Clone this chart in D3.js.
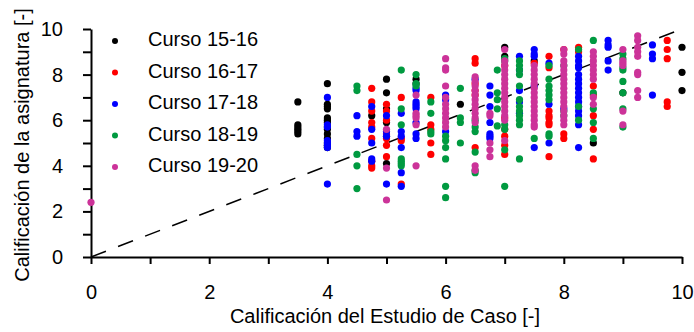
<!DOCTYPE html>
<html><head><meta charset="utf-8">
<script src="https://cdn.jsdelivr.net/npm/d3@7"></script>
<style>
body{margin:0;background:#fff;}
svg{display:block;font-family:"Liberation Sans",Arial,sans-serif;}
</style></head>
<body><svg id="c" width="694" height="332"></svg>
<script>
// Series: [x, [y values]]
const curso1516 = [
  [3.5,[6.8,5.8,5.7,5.6,5.5,5.4]],
  [4,[7.6,6.7,6.6,6.5,6.1,6.0,5.9,5.7,5.6,5.4,5.2,5.0,4.9,4.8]],
  [4.75,[6.2]],
  [5,[7.8,7.2,6.5,5.9,5.3,4.1]],
  [5.5,[7.8,7.6]],
  [6.25,[6.7]],
  [7,[9.2,8.8]],
  [7.5,[8.6]],
  [8.5,[5.0]],
  [9,[7.2]],
  [10,[9.2,8.1,7.3]]
];
const curso1617 = [
  [4.75,[7.4,6.8,6.4,5.9,5.7,5.2,4.2,4.0,3.9]],
  [5,[6.7,6.4,6.0,5.4,5.2,4.9,4.4]],
  [5.25,[7.0,5.2,5.1,3.2]],
  [5.75,[7.0,5.8,5.6,5.0,4.5]],
  [6.5,[8.7,8.5,7.6,7.3,7.1,4.8]],
  [7,[8.4,6.1,5.6,5.3,4.9,4.5]],
  [7.5,[8.5]],
  [7.75,[8.8,8.3,6.4,6.2,6.1,5.9,5.8,4.4]],
  [8,[9.1,5.4,5.2]],
  [8.25,[9.2,9.0]],
  [8.5,[7.5,7.1,6.2,5.6,4.3]],
  [9.75,[9.5,9.1,8.7,6.8,6.6]]
];
const curso1718 = [
  [4,[7.0,5.8,5.7,5.1,5.0,4.9,4.8,3.2]],
  [4.5,[6.2,5.5,5.3]],
  [4.75,[6.6,5.6,5.0,4.3,4.2]],
  [5,[6.2,5.5,5.3,3.2]],
  [5.25,[6.3,5.5,5.3,4.8,3.7,3.1]],
  [5.5,[7.4,7.3,6.8,6.7,6.6,6.5,5.9,5.4,5.2]],
  [6,[7.1,6.9,5.5]],
  [6.5,[7.8]],
  [6.75,[7.5,7.1,6.6,5.9,5.4,5.3,5.2]],
  [7.25,[8.8,8.2,7.3,6.8,6.3]],
  [7.5,[9.1,8.9,8.8,7.5,4.8]],
  [7.75,[8.5,6.7,5.0]],
  [8,[6.5]],
  [8.25,[8.8,8.6,8.4,8.3,8.0,7.8,7.6,7.4,7.2,7.0,6.8,6.6,6.4,6.2,5.8,4.8]],
  [8.75,[9.5,9.3,9.2,8.6,8.2]],
  [9.5,[9.3,8.9,8.7,7.1]]
];
const curso1819 = [
  [4.5,[7.5,7.3,4.5,4.0,3.0]],
  [5.25,[8.2,6.5,5.8,4.3,4.2,4.1,4.0]],
  [5.5,[8.0,7.6,7.5]],
  [5.75,[6.8,6.3,5.5,5.4]],
  [6,[5.3,5.1,4.8,4.3,3.1,2.6]],
  [6.25,[7.4,6.1,5.9,5.0]],
  [6.5,[6.0,5.7,5.5,4.6,3.8,3.7]],
  [6.875,[8.2,7.2,6.9,6.5,5.75]],
  [7,[8.7,8.6,5.8,5.6,4.7,3.1]],
  [7.25,[8.6,8.4,8.2,8.0,7.5,6.9,6.6,6.4,6.2,6.0,5.8,4.3]],
  [7.5,[5.2]],
  [7.75,[8.4,7.8,7.5,7.3,7.1,6.9,5.4,5.3]],
  [8,[8.4,6.4,6.2]],
  [8.25,[9.1,6.6,6.0]],
  [8.5,[9.5,7.2,6.5,5.9,5.2]],
  [9,[8.9,8.7,8.3,8.2,7.7,7.2,6.5,5.7]]
];
const curso1920 = [
  [0,[2.4]],
  [5,[5.6,3.9,2.5]],
  [5.5,[7.1,6.3,6.2,6.1,5.8,4.0]],
  [6,[8.7,8.3,8.2,7.5,7.0,6.7,6.5,6.3,6.1,5.9,5.7]],
  [6.5,[7.9,7.7,7.5,7.3,7.1,6.9,6.7,6.5,6.3,6.1,5.9,4.0,3.8]],
  [6.75,[6.3,6.2,5.0,4.7,4.4]],
  [7,[9.1,8.6,8.4,8.2,8.0,7.8,7.6,7.4,7.2,7.0,6.8,6.6,6.4,6.2,6.0,5.1]],
  [7.5,[8.4,8.2,8.0,7.8,7.6,7.4,7.2,7.0,6.8,6.6,6.4,6.2,6.0,5.8,5.7]],
  [8,[9.1,8.9,8.6,8.4,8.2,8.0,7.8,7.6,7.4,7.2,7.0,6.8,6.6,6.4,6.2,6.0,5.8]],
  [8.5,[9.0,8.8,8.6,8.4,8.2,8.0,7.8,7.0,6.7]],
  [9,[9.1,8.6,8.5,8.4,6.4,5.8]],
  [9.25,[9.7,9.5,9.2,9.0,8.8,8.1,8.0,7.3,7.0]]
];
const seriesNames = ["Curso 15-16","Curso 16-17","Curso 17-18","Curso 18-19","Curso 19-20"];
const seriesColors = ["#000000","#ff0000","#0000ff","#009a40","#cc3399"];
const seriesData = [curso1516,curso1617,curso1718,curso1819,curso1920];
const xTicks = [0,1,2,3,4,5,6,7,8,9,10];
const yTicks = [0,1,2,3,4,5,6,7,8,9,10];
const xTickLabels = ["0","","2","","4","","6","","8","","10"];
const yTickLabels = ["0","","2","","4","","6","","8","","10"];
const identityLine = [[0,0],[10,10]];
const xTitle = "Calificación del Estudio de Caso [-]";
const yTitle = "Calificación de la asignatura [-]";

const svg = d3.select("#c");
const x = d3.scaleLinear().domain([0,10]).range([91,682]);
const y = d3.scaleLinear().domain([0,10]).range([257,29]);

// axes
const xAxis = svg.append("g").attr("transform","translate(0,257)")
  .call(d3.axisBottom(x).tickValues(xTicks).tickSize(7).tickSizeOuter(0)
    .tickPadding(21).tickFormat((d,i)=>xTickLabels[i]));
const yAxis = svg.append("g").attr("transform","translate(91,0)")
  .call(d3.axisLeft(y).tickValues(yTicks).tickSize(8).tickSizeOuter(0)
    .tickPadding(20).tickFormat((d,i)=>yTickLabels[i]));
[xAxis,yAxis].forEach(a=>{
  a.selectAll("path.domain").attr("stroke","#000").attr("stroke-width",2);
  a.selectAll(".tick line").attr("stroke","#000").attr("stroke-width",2);
  a.selectAll(".tick text").attr("fill","#000").style("font-size","20px")
    .style("font-family","'Liberation Sans',Arial,sans-serif");
});

// dashed identity line
svg.append("path")
  .attr("d", d3.line().x(d=>x(d[0])).y(d=>y(d[1]))(identityLine))
  .attr("stroke","#000").attr("stroke-width",1.5).attr("fill","none")
  .attr("stroke-dasharray","16,13");

// points
seriesData.forEach((s,i)=>{
  const pts = [];
  s.forEach(([xv,ys])=>ys.forEach(yv=>pts.push([xv,yv])));
  svg.append("g").selectAll("circle").data(pts).join("circle")
    .attr("cx",d=>x(d[0])).attr("cy",d=>y(d[1])).attr("r",3.6)
    .attr("fill",seriesColors[i]);
});

// titles
svg.append("text").attr("x",385).attr("y",323).attr("text-anchor","middle")
  .style("font-size","20px").attr("fill","#000").text(xTitle);
svg.append("text").attr("transform","translate(29,145) rotate(-90)")
  .attr("text-anchor","middle").style("font-size","20px").attr("fill","#000").text(yTitle);

// legend
const leg = svg.append("g");
seriesNames.forEach((n,i)=>{
  const yy = 41 + i*31.5;
  leg.append("circle").attr("cx",115).attr("cy",yy).attr("r",3).attr("fill",seriesColors[i]);
  leg.append("text").attr("x",148).attr("y",yy+5).style("font-size","20px")
    .attr("fill","#000").text(n);
});
</script></body></html>
